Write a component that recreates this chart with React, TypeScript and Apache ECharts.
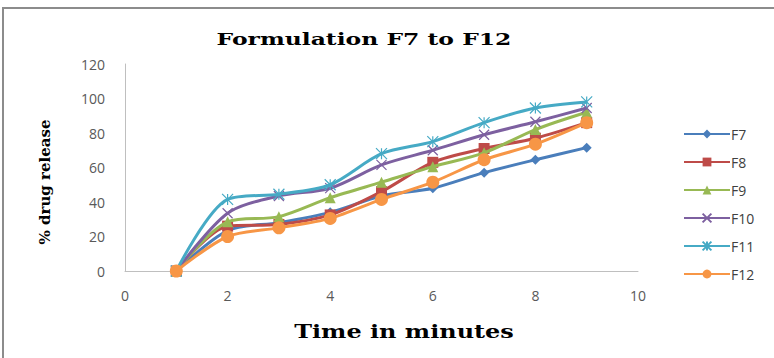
import React, { useEffect, useRef } from "react";
import * as echarts from "echarts";

const times = [1, 2, 3, 4, 5, 6, 7, 8, 9];
const seriesNames = ["F7", "F8", "F9", "F10", "F11", "F12"];
const f7 = [0, 23.4, 28, 34, 43.5, 48, 57, 64.5, 71.5];
const f8 = [0, 26, 27, 32.5, 46, 63, 71, 77, 86];
const f9 = [0, 28.5, 31.5, 42.5, 51.5, 60.5, 68.5, 82, 92];
const f10 = [0, 33.5, 43.5, 48, 61.5, 70, 79, 86.5, 94.5];
const f11 = [0, 41.5, 44.5, 50, 68, 75, 86, 94.5, 98];
const f12 = [0, 20, 25, 30.5, 41.5, 51.5, 64.5, 73.5, 86];
const xTicks = [0, 2, 4, 6, 8, 10];
const yTicks = [0, 20, 40, 60, 80, 100, 120];

const colors = ["#4a7ebb", "#be4b48", "#98b954", "#7d60a0", "#46aac5", "#f79646"];
const symbols = [
  "diamond",
  "rect",
  "triangle",
  "path://M0,0L10,10M10,0L0,10",
  "path://M0,0L10,10M10,0L0,10M5,0L5,10",
  "circle",
];
const symbolSizes = [10, 11, 11, 10, 11, 13];

export default function App() {
  const ref = useRef<HTMLDivElement>(null);
  useEffect(() => {
    if (!ref.current) return;
    const chart = echarts.init(ref.current, null, { renderer: "svg" });
    const values = [f7, f8, f9, f10, f11, f12];
    const serif = "DejaVu Serif";
    chart.setOption({
      animation: false,
      backgroundColor: "#ffffff",
      grid: { left: 125, top: 64, right: 136, bottom: 87, containLabel: false },
      xAxis: {
        type: "value",
        min: xTicks[0],
        max: xTicks[xTicks.length - 1],
        interval: 2,
        axisLine: { show: true, lineStyle: { color: "#bfbfbf", width: 1 } },
        axisTick: { show: false },
        splitLine: { show: false },
        axisLabel: { color: "#595959", fontSize: 14, fontFamily: "Open Sans", margin: 17 },
      },
      yAxis: {
        type: "value",
        min: yTicks[0],
        max: yTicks[yTicks.length - 1],
        interval: 20,
        axisLine: { show: true, lineStyle: { color: "#bfbfbf", width: 1 } },
        axisTick: { show: false },
        splitLine: { show: false },
        axisLabel: { color: "#595959", fontSize: 14, fontFamily: "Open Sans", margin: 20 },
      },
      legend: {
        orient: "vertical",
        left: 678,
        top: 122,
        itemWidth: 46,
        itemHeight: 11,
        itemGap: 14,
        textStyle: { color: "#404040", fontSize: 14, fontFamily: "Open Sans", padding: [0, 0, 0, -4] },
        data: seriesNames,
      },
      graphic: [
        {
          type: "rect",
          shape: { x: 3, y: 8, width: 900, height: 500 },
          style: { fill: "none", stroke: "#8c8c8c", lineWidth: 2 },
          silent: true,
        },
        {
          type: "text",
          x: 364,
          y: 39,
          scaleX: 1.38,
          style: {
            text: "Formulation F7 to F12",
            font: `bold 17px "${serif}"`,
            fill: "#000",
            textAlign: "center",
            textVerticalAlign: "middle",
          },
        },
        {
          type: "text",
          x: 45,
          y: 182,
          rotation: Math.PI / 2,
          style: {
            text: "% drug release",
            font: `bold 15px "${serif}"`,
            fill: "#000",
            textAlign: "center",
            textVerticalAlign: "middle",
          },
        },
        {
          type: "text",
          x: 404,
          y: 331,
          scaleX: 1.26,
          style: {
            text: "Time in minutes",
            font: `bold 19px "${serif}"`,
            fill: "#000",
            textAlign: "center",
            textVerticalAlign: "middle",
          },
        },
      ],
      series: seriesNames.map((name, i) => ({
        name,
        type: "line",
        smooth: 0.3,
        data: times.map((t, j) => [t, values[i][j]]),
        symbol: symbols[i],
        symbolSize: symbolSizes[i],
        showSymbol: true,
        lineStyle: { color: colors[i], width: 3 },
        itemStyle: {
          color: colors[i],
          borderColor: colors[i],
          borderWidth: i === 3 || i === 4 ? 1.2 : 0,
        },
        z: 2 + i,
      })),
    });
    return () => chart.dispose();
  }, []);
  return (
    <div
      ref={ref}
      style={{ position: "fixed", left: 0, top: 0, width: 774, height: 358 }}
    />
  );
}
